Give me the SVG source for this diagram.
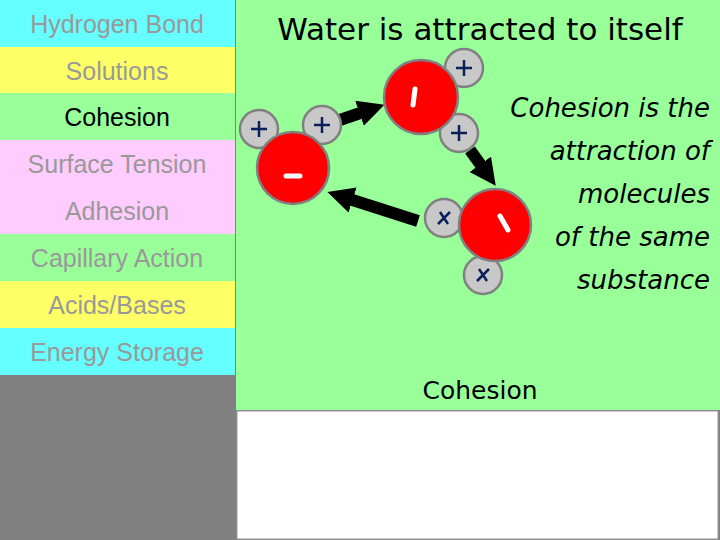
<svg xmlns="http://www.w3.org/2000/svg" width="720" height="540" viewBox="0 0 720 540">
<style>
.m{font-family:"Liberation Sans",Arial,sans-serif;font-size:25px;fill:#999;text-anchor:middle}
.o{fill:#ff0000;stroke:#808080;stroke-width:2.5}
.h{fill:#c8c8c8;stroke:#808080;stroke-width:2.5}
.p{stroke:#0a1f5c;stroke-width:2.5;fill:none}
.n{stroke:#fff;stroke-width:5;stroke-linecap:round}
.t{font-family:"DejaVu Sans",sans-serif;font-size:26px;font-style:italic;fill:#000;text-anchor:end}
</style>
<defs><marker id="a" viewBox="0 0 10 10" refX="5" refY="5" markerWidth="2.2" markerHeight="2.2" orient="auto"><path d="M0,0L10,5L0,10z" fill="#000"/></marker></defs>
<rect width="720" height="540" fill="#808080"/>
<g id="menu">
<rect x="0" y="0" width="235" height="47" fill="#66ffff"/>
<rect x="0" y="47" width="235" height="46" fill="#ffff66"/>
<rect x="0" y="93" width="235" height="47" fill="#99ff99"/>
<rect x="0" y="140" width="235" height="94" fill="#ffccff"/>
<rect x="0" y="234" width="235" height="47" fill="#99ff99"/>
<rect x="0" y="281" width="235" height="47" fill="#ffff66"/>
<rect x="0" y="328" width="235" height="47" fill="#66ffff"/>
<text class="m" x="117" y="33">Hydrogen Bond</text>
<text class="m" x="117" y="80">Solutions</text>
<text class="m" x="117" y="126" style="fill:#000">Cohesion</text>
<text class="m" x="117" y="173">Surface Tension</text>
<text class="m" x="117" y="220">Adhesion</text>
<text class="m" x="117" y="267">Capillary Action</text>
<text class="m" x="117" y="314">Acids/Bases</text>
<text class="m" x="117" y="361">Energy Storage</text>
</g>
<rect x="236" y="0" width="484" height="410" fill="#99ff99"/>
<rect x="237" y="411" width="481" height="128" fill="#fff" stroke="#999" stroke-width="1"/>
<text x="480" y="40" style="font-family:'DejaVu Sans',sans-serif;font-size:31px;text-anchor:middle">Water is attracted to itself</text>
<text class="t" x="710" y="117">Cohesion is the</text>
<text class="t" x="710" y="160">attraction of</text>
<text class="t" x="710" y="203">molecules</text>
<text class="t" x="710" y="246">of the same</text>
<text class="t" x="710" y="289">substance</text>
<text x="480" y="399" style="font-family:'DejaVu Sans',sans-serif;font-size:25px;text-anchor:middle">Cohesion</text>
<g id="connectors" stroke="#000" stroke-width="12" marker-end="url(#a)">
<line x1="337" y1="121" x2="372" y2="109"/>
<line x1="470" y1="150" x2="488" y2="175"/>
<line x1="418" y1="221" x2="340" y2="196"/>
</g>
<g id="mol1">
<circle class="h" cx="259" cy="129" r="19"/><circle class="h" cx="322" cy="125" r="19"/>
<circle class="o" cx="293" cy="168" r="36"/>
<path class="p" d="M251,129h16M259,121v16M314,125h16M322,117v16"/>
<line class="n" x1="286" y1="176" x2="300" y2="176"/>
</g>
<g id="mol2">
<circle class="h" cx="464" cy="68" r="19"/><circle class="h" cx="459" cy="133" r="19"/>
<circle class="o" cx="421" cy="97" r="37"/>
<path class="p" d="M456,68h16M464,60v16M451,133h16M459,125v16"/>
<line class="n" x1="413" y1="105" x2="415" y2="89"/>
</g>
<g id="mol3">
<circle class="h" cx="444" cy="218" r="19"/><circle class="h" cx="483" cy="275" r="19"/>
<circle class="o" cx="495" cy="225" r="36"/>
<path class="p" d="M438,224l12,-12M440,212l8,12M477,281l12,-12M479,269l8,12"/>
<line class="n" x1="500" y1="216" x2="508" y2="230"/>
</g>
</svg>
